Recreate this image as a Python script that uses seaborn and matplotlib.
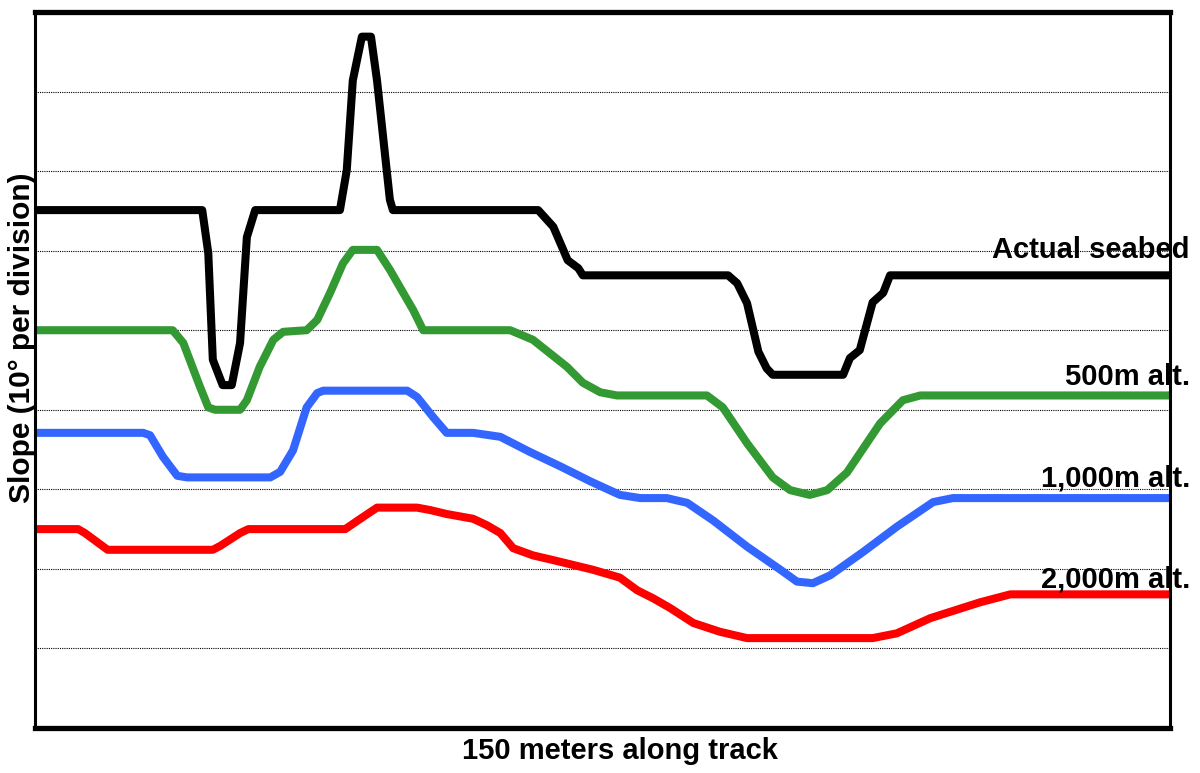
import matplotlib
matplotlib.use("Agg")
import matplotlib.pyplot as plt
import seaborn as sns
import pandas as pd

# Track distance (m) and slope (deg)
seabed_x = [0, 22.1, 22.9, 23.5, 24.8, 26.0, 27.1, 28.0, 29.1, 40.3, 41.2, 42.0, 43.2, 44.4, 45.2, 46.9, 47.3,
            66.5, 68.5, 70.4, 71.8, 72.4, 91.6, 92.8, 94.1, 95.6, 96.7, 97.5, 106.8, 107.7, 109.0, 110.7, 112.1, 113.0, 150]
seabed_y = [65.1, 65.1, 59.7, 46.3, 43.1, 43.1, 48.4, 61.7, 65.1, 65.1, 70.1, 81.4, 86.9, 86.9, 81.4, 66.4, 65.1,
            65.1, 63.0, 58.8, 57.8, 56.9, 56.9, 55.9, 53.4, 47.3, 45.2, 44.4, 44.4, 46.5, 47.5, 53.5, 54.7, 56.9, 56.9]

alt500_x = [0, 18.2, 19.6, 21.8, 22.9, 23.8, 27.1, 28.0, 29.7, 31.5, 32.8, 35.9, 37.3, 39.0, 40.7, 42.0, 45.2, 46.9, 50.0, 51.3,
            62.8, 65.8, 70.3, 72.4, 74.7, 76.9, 88.8, 90.9, 94.1, 97.5, 99.8, 102.4, 104.7, 107.3, 111.7, 114.7, 117.0, 150]
alt500_y = [50.0, 50.0, 48.4, 42.9, 40.3, 40.0, 40.0, 41.2, 45.4, 48.8, 49.8, 50.0, 51.3, 54.7, 58.4, 60.1, 60.1, 57.6, 52.5, 50.0,
            50.0, 48.8, 45.4, 43.4, 42.2, 41.8, 41.8, 40.3, 35.8, 31.5, 29.9, 29.3, 29.9, 32.1, 38.3, 41.2, 41.8, 41.8]

alt1000_x = [0, 14.3, 15.2, 16.9, 18.8, 20.1, 31.1, 32.4, 34.1, 35.9, 37.3, 38.1, 49.2, 50.5, 52.6, 54.4, 57.9, 61.5, 65.4, 69.4,
             73.4, 77.3, 80.0, 83.5, 86.2, 89.6, 94.1, 98.5, 100.7, 102.8, 105.1, 109.4, 113.9, 118.7, 121.3, 150]
alt1000_y = [37.1, 37.1, 36.8, 34.1, 31.7, 31.5, 31.5, 32.2, 34.9, 40.3, 42.1, 42.4, 42.4, 41.6, 39.1, 37.1, 37.1, 36.6, 34.7, 32.9,
             31.0, 29.3, 28.9, 28.9, 28.3, 26.1, 22.8, 19.9, 18.4, 18.2, 19.2, 22.1, 25.3, 28.4, 28.9, 28.9]

alt2000_x = [0, 5.7, 6.6, 9.6, 23.5, 24.5, 27.1, 28.2, 41.0, 43.0, 45.2, 50.5, 52.2, 54.4, 57.9, 59.7, 61.5, 63.2, 65.8, 68.5,
             71.1, 73.7, 77.3, 79.6, 81.7, 83.9, 87.0, 90.5, 94.1, 110.7, 113.9, 118.3, 124.9, 128.9, 150]
alt2000_y = [25.0, 25.0, 24.5, 22.4, 22.4, 22.9, 24.5, 25.0, 25.0, 26.3, 27.7, 27.7, 27.4, 26.9, 26.3, 25.5, 24.5, 22.6, 21.7, 21.1,
             20.5, 19.9, 18.9, 17.3, 16.3, 15.1, 13.2, 12.1, 11.3, 11.3, 11.9, 13.8, 15.8, 16.8, 16.8]

series_names = ["Actual seabed", "500m alt.", "1,000m alt.", "2,000m alt."]
series_colors = ["#000000", "#339933", "#3366FF", "#FF0000"]
grid_ticks = [10, 20, 30, 40, 50, 60, 70, 80]

sns.set_style("white")
plt.rcParams["font.family"] = ["Liberation Sans", "DejaVu Sans"]
plt.rcParams["text.color"] = "black"

fig = plt.figure(figsize=(12, 7.73), dpi=100)
ax = fig.add_axes([35 / 1200, 45 / 773, 1135 / 1200, 716 / 773])

data = [(alt2000_x, alt2000_y), (alt1000_x, alt1000_y), (alt500_x, alt500_y), (seabed_x, seabed_y)]
names = series_names[::-1]
colors = series_colors[::-1]
for (xs, ys), nm, col in zip(data, names, colors):
    df = pd.DataFrame({"x": xs, "y": ys})
    sns.lineplot(data=df, x="x", y="y", ax=ax, color=col, linewidth=5.8,
                 estimator=None, sort=False, zorder=3, solid_joinstyle="round",
                 solid_capstyle="butt")

ax.set_xlim(0, 150)
ax.set_ylim(0, 90)
ax.set_yticks(grid_ticks)
ax.set_xticks([])
ax.set_yticklabels([])
ax.tick_params(length=0)
ax.grid(axis="y", color="black", linestyle=(0, (1, 1)), linewidth=0.8)
ax.set_xlabel("")
ax.set_ylabel("")
for side in ["left", "right"]:
    ax.spines[side].set_linewidth(2.2)
    ax.spines[side].set_color("black")
for side in ["top", "bottom"]:
    ax.spines[side].set_linewidth(3.8)
    ax.spines[side].set_color("black")
for s in ax.spines.values():
    s.set_zorder(5)

# series labels at right
label_baselines = [258, 385, 487, 587]
for nm, yb in zip(series_names, label_baselines):
    ax.text(1190 / 1200, 1 - yb / 773, nm, transform=fig.transFigure, ha="right", va="baseline",
            fontsize=21, fontweight="bold", color="black", clip_on=False, zorder=4)

fig.text(620 / 1200, 1 - 751 / 773, "150 meters along track", ha="center", va="center",
         fontsize=21, fontweight="bold", color="black")
fig.text(22 / 1200, 1 - 338 / 773, "Slope (10° per division)", ha="center", va="center",
         rotation=90, fontsize=21.5, fontweight="bold", color="black")

fig.savefig("out.png", dpi=100)
